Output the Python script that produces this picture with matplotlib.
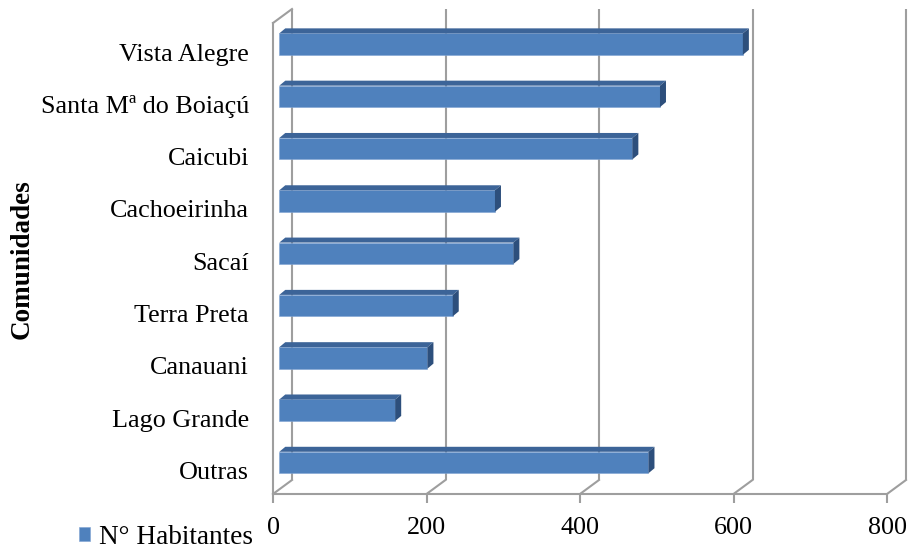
import matplotlib
matplotlib.use('Agg')
import matplotlib.pyplot as plt
from matplotlib.patches import Polygon
import matplotlib.transforms as mtrans
import numpy as np

# ---- data ----
categories = ["Vista Alegre", "Santa Mª do Boiaçú", "Caicubi", "Cachoeirinha",
              "Sacaí", "Terra Preta", "Canauani", "Lago Grande", "Outras"]
values = [604, 496, 460, 281, 305, 226, 193, 151, 481]
xticks = [0, 200, 400, 600, 800]
series_name = "N° Habitantes"
axis_title = "Comunidades"

plt.rcParams['font.family'] = ['Liberation Serif', 'DejaVu Serif']

W, H, DPI = 909, 548, 100
fig = plt.figure(figsize=(W / DPI, H / DPI), dpi=DPI)

left_px, right_px = 273, 887
top_px, bottom_px = 23, 494
ax = fig.add_axes([left_px / W, 1 - bottom_px / H,
                   (right_px - left_px) / W, (bottom_px - top_px) / H])
n = len(categories)
pos = np.arange(n)[::-1]
ymin, ymax = -0.602, 8.403
ax.set_xlim(0, 800)
ax.set_ylim(ymin, ymax)


def px2d(dx, dy):
    o = ax.transData.transform((0, 0))
    p = ax.transData.inverted().transform(o + np.array([dx, dy]))
    return p[0], p[1]


GRID = '#9E9E9E'
LW = 1.5
FS = 18.8

# back wall offset
bdx, bdy = px2d(19, 14)
for x in xticks:
    ax.plot([x + bdx, x + bdx], [ymin + bdy, ymax + bdy], color=GRID, lw=LW,
            clip_on=False, zorder=1, solid_capstyle='butt')
    ax.plot([x, x + bdx], [ymin, ymin + bdy], color=GRID, lw=LW,
            clip_on=False, zorder=1)
ax.plot([0, bdx], [ymax, ymax + bdy], color=GRID, lw=LW, clip_on=False, zorder=1)

for s in ['top', 'right']:
    ax.spines[s].set_visible(False)
for s in ['left', 'bottom']:
    ax.spines[s].set_color(GRID)
    ax.spines[s].set_linewidth(LW)

# bars
bx, _ = px2d(6.3, 0)
bh = 0.41
FRONT = '#4F81BD'
TOP = '#3C6498'
SIDE = '#2D4F7C'
bars = ax.barh(pos, values, height=bh, left=bx, color=FRONT, zorder=3,
               edgecolor='#7FA3D3', linewidth=0.4, label=series_name)
tdx, tdy = px2d(6, 5)
for y, v in zip(pos, values):
    x0 = bx
    x1 = bx + v
    yt = y + bh / 2
    yb = y - bh / 2
    ax.add_patch(Polygon([(x0, yt), (x1, yt), (x1 + tdx, yt + tdy), (x0 + tdx, yt + tdy)],
                         closed=True, facecolor=TOP, edgecolor='none', zorder=3))
    ax.add_patch(Polygon([(x1, yb), (x1, yt), (x1 + tdx, yt + tdy), (x1 + tdx, yb + tdy)],
                         closed=True, facecolor=SIDE, edgecolor='none', zorder=3))

ax.set_xticks(xticks)
ax.set_xticklabels([str(t) for t in xticks])
ax.set_yticks(pos)
ax.set_yticklabels(categories)
ax.tick_params(axis='x', direction='out', length=6.5, width=LW, color=GRID,
               labelsize=FS, pad=10)
ax.tick_params(axis='y', length=0, labelsize=FS, pad=17.3)
off = mtrans.ScaledTranslation(0, -0.08, fig.dpi_scale_trans)
for lab in ax.get_yticklabels():
    lab.set_transform(lab.get_transform() + off)

fig.text(22 / W, 1 - 259 / H, axis_title, rotation=90, fontweight='bold',
         fontsize=19.5, ha='center', va='center')

fig.legend(handles=[bars], labels=[series_name], loc='center left',
           bbox_to_anchor=(79 / W, 1 - 537 / H), frameon=False,
           handlelength=0.42, handleheight=0.42, handletextpad=0.3,
           borderaxespad=0, borderpad=0, fontsize=19.6)

fig.savefig('out.png', dpi=DPI)
